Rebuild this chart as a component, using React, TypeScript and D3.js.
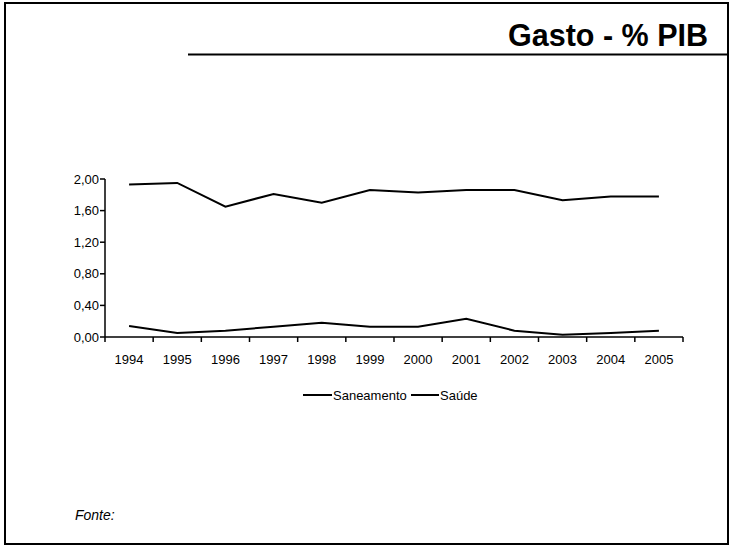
import React from "react";
import * as d3 from "d3";

const years = ["1994","1995","1996","1997","1998","1999","2000","2001","2002","2003","2004","2005"];
const saneamento = [0.14, 0.05, 0.08, 0.13, 0.18, 0.13, 0.13, 0.23, 0.08, 0.03, 0.05, 0.08];
const saude = [1.93, 1.95, 1.65, 1.81, 1.70, 1.86, 1.83, 1.86, 1.86, 1.73, 1.78, 1.78];
const yTicks = [0, 0.4, 0.8, 1.2, 1.6, 2.0];
const seriesNames = ["Saneamento", "Saúde"];
const title = "Gasto - % PIB";
const source = "Fonte:";

const W = 731, H = 547;
const font = "'Liberation Sans', Arial, sans-serif";

export default function App() {
  const x = d3.scaleBand<string>().domain(years).range([105, 683]);
  const y = d3.scaleLinear().domain([0, 2]).range([337, 179]);
  const line = d3.line<number>()
    .x((_, i) => (x(years[i]) as number) + x.bandwidth() / 2)
    .y((v) => y(v));
  const fmt = (v: number) => v.toFixed(2).replace(".", ",");
  const boundaries = years.map((yr) => x(yr) as number).concat([683]);

  return (
    <svg width={W} height={H} style={{ position: "absolute", left: 0, top: 0, background: "#fff" }} fontFamily={font}>
      <rect x={5} y={3} width={723} height={541} fill="#fff" stroke="#000" strokeWidth={2} />
      <line x1={188} x2={728} y1={54.5} y2={54.5} stroke="#000" strokeWidth={2} />
      <text x={708} y={46} textAnchor="end" fontSize={30.5} fontWeight="bold">{title}</text>

      {/* y axis */}
      <line x1={105} x2={105} y1={y(2)} y2={y(0)} stroke="#000" strokeWidth={1.5} />
      {yTicks.map((t) => (
        <g key={t}>
          <line x1={100} x2={105} y1={y(t)} y2={y(t)} stroke="#000" strokeWidth={1.5} />
          <text x={99} y={y(t)} dy="0.35em" textAnchor="end" fontSize={13}>{fmt(t)}</text>
        </g>
      ))}
      {/* x axis */}
      <line x1={105} x2={683} y1={y(0)} y2={y(0)} stroke="#000" strokeWidth={1.5} />
      {boundaries.map((b, i) => (
        <line key={i} x1={b} x2={b} y1={y(0)} y2={y(0) + 5} stroke="#000" strokeWidth={1.5} />
      ))}
      {years.map((yr) => (
        <text key={yr} x={(x(yr) as number) + x.bandwidth() / 2} y={364} textAnchor="middle" fontSize={13}>{yr}</text>
      ))}

      <path d={line(saneamento) || ""} fill="none" stroke="#000" strokeWidth={2} />
      <path d={line(saude) || ""} fill="none" stroke="#000" strokeWidth={2} />

      {/* legend */}
      <line x1={303} x2={332} y1={395} y2={395} stroke="#000" strokeWidth={2} />
      <text x={333} y={399.5} fontSize={13}>{seriesNames[0]}</text>
      <line x1={411} x2={439} y1={395} y2={395} stroke="#000" strokeWidth={2} />
      <text x={440} y={399.5} fontSize={13}>{seriesNames[1]}</text>

      <text x={75} y={520} fontSize={14} fontStyle="italic">{source}</text>
    </svg>
  );
}
